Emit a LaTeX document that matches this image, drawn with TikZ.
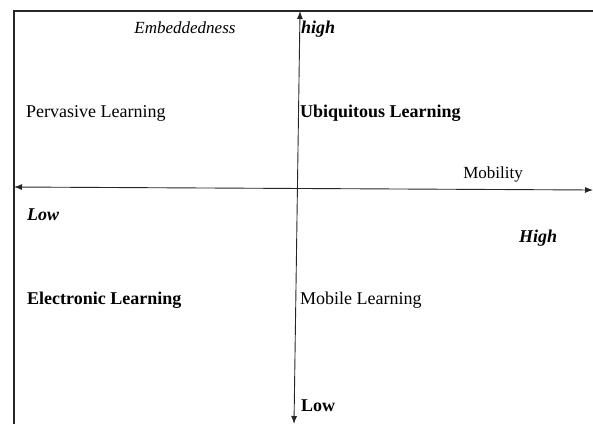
\documentclass[tikz,border=0pt]{standalone}
\usepackage{fontspec}
\setmainfont{Liberation Serif}
\usetikzlibrary{arrows.meta}
\tikzset{
  axisline/.style={draw=black!85, line width=0.9pt, {Latex[length=8pt,width=6pt]}-{Latex[length=8pt,width=6pt]}},
  quad/.style={anchor=west, inner sep=0pt, font=\fontsize{18}{21}\selectfont},
  quadbf/.style={quad, font=\fontsize{18}{21}\selectfont\bfseries},
  quadbi/.style={quad, font=\fontsize{18}{21}\selectfont\bfseries\itshape},
  axlabel/.style={inner sep=0pt, font=\fontsize{17}{20}\selectfont},
}
\begin{document}
\begin{tikzpicture}[x=1pt,y=-1pt]
  \useasboundingbox (0,0) rectangle (593,424);
  \draw[black!85, line width=1.2pt] (14,424) -- (14,11) -- (593,11); % frame

  \coordinate (vtop) at (300,11);
  \coordinate (vbot) at (294,424);
  \coordinate (hleft) at (14,187);
  \coordinate (hright) at (593,190);
  \draw[axisline] (vbot) -- (vtop); % embeddedness axis
  \draw[axisline] (hleft) -- (hright); % mobility axis

  \node[axlabel, font=\fontsize{17}{20}\selectfont\itshape] (emb) at (185,28) {Embeddedness};
  \node[quadbi] (high) at (301,29) {high};
  \node[axlabel] (mob) at (493,174) {Mobility};
  \node[quadbi] (lowx) at (27,215) {Low};
  \node[quadbi] (highx) at (519,238) {High};
  \node[quadbf] (lowy) at (301,406) {Low};

  \node[quad] (pervasive) at (26,113) {Pervasive Learning};
  \node[quadbf] (ubiquitous) at (300,113) {Ubiquitous Learning};
  \node[quadbf] (electronic) at (27,300) {Electronic Learning};
  \node[quad] (mobile) at (300,300) {Mobile Learning};
\end{tikzpicture}
\end{document}
